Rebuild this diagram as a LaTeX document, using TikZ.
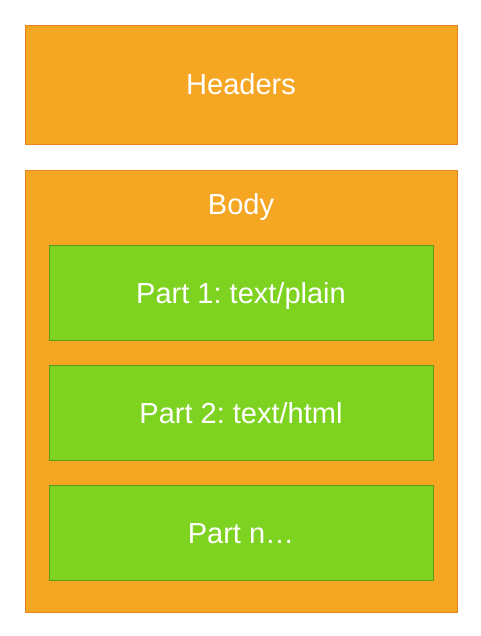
\documentclass[tikz,border=0pt]{standalone}
\usepackage{fontspec}
\setmainfont{Liberation Sans}
\frenchspacing
\definecolor{boxorange}{HTML}{F5A623}
\definecolor{edgeorange}{HTML}{E8821E}
\definecolor{boxgreen}{HTML}{7ED321}
\definecolor{edgegreen}{HTML}{5C9E1A}
\begin{document}
\begin{tikzpicture}[x=1pt, y=-1pt,
    outerbox/.style={shape=rectangle, draw=edgeorange, fill=boxorange, minimum width=432pt, inner sep=0pt},
    partbox/.style={shape=rectangle, draw=edgegreen, fill=boxgreen, minimum width=384pt, minimum height=95pt, inner sep=0pt},
    boxtext/.style={text=white, font=\fontsize{29}{35}\selectfont, text height=21pt, text depth=0pt}]
    \fill[white] (0,0) rectangle (480,636);
    \useasboundingbox (0,0) rectangle (480,636);

    \node[outerbox, minimum height=119pt, boxtext] (headers) at (241,84.5) {Headers};
    \node[outerbox, minimum height=442pt] (body) at (241,391) {};
    \node[boxtext] (bodylabel) at (241,204) {Body};

    \node[partbox, boxtext] (part1) at (241,292.5) {Part 1: text/plain};
    \node[partbox, boxtext] (part2) at (241,412.5) {Part 2: text/html};
    \node[partbox, boxtext] (partn) at (241,532.5) {Part n…};
\end{tikzpicture}
\end{document}
